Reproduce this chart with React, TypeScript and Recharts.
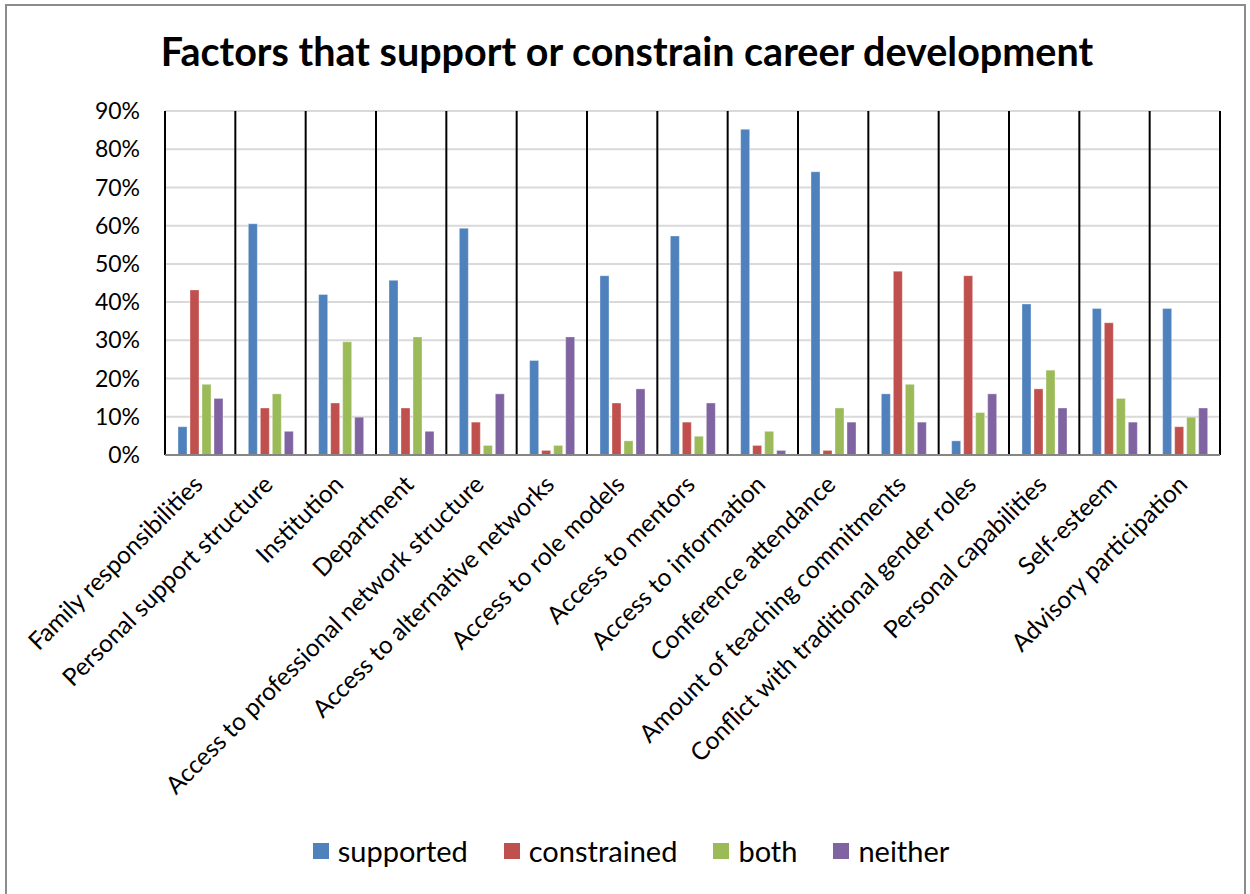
import { BarChart, Bar, XAxis, YAxis, CartesianGrid, Legend } from "recharts";

const categories = [
  "Family responsibilities",
  "Personal support structure",
  "Institution",
  "Department",
  "Access to professional network structure",
  "Access to alternative networks",
  "Access to role models",
  "Access to mentors",
  "Access to information",
  "Conference attendance",
  "Amount of teaching commitments",
  "Conflict with traditional gender roles",
  "Personal capabilities",
  "Self-esteem",
  "Advisory participation",
];

const supported = [7.4, 60.5, 42.0, 45.7, 59.3, 24.7, 46.9, 57.3, 85.2, 74.1, 16.0, 3.7, 39.5, 38.3, 38.3];
const constrained = [43.2, 12.3, 13.6, 12.3, 8.6, 1.2, 13.6, 8.6, 2.5, 1.2, 48.1, 46.9, 17.3, 34.6, 7.4];
const both = [18.5, 16.0, 29.6, 30.9, 2.5, 2.5, 3.7, 4.9, 6.2, 12.3, 18.5, 11.1, 22.2, 14.8, 9.9];
const neither = [14.8, 6.2, 9.9, 6.2, 16.0, 30.9, 17.3, 13.6, 1.2, 8.6, 8.6, 16.0, 12.3, 8.6, 12.3];

const yTicks = [0, 10, 20, 30, 40, 50, 60, 70, 80, 90];

const series = [
  { key: "supported", color: "#4F81BD" },
  { key: "constrained", color: "#C0504D" },
  { key: "both", color: "#9BBB59" },
  { key: "neither", color: "#8064A2" },
];

const data = categories.map((name, i) => ({
  name,
  supported: supported[i],
  constrained: constrained[i],
  both: both[i],
  neither: neither[i],
}));

const FONT = "Lato, 'Open Sans', sans-serif";

function CategoryTick({ x, y, payload }: any) {
  const tx = x + 4;
  const ty = y + 31;
  return (
    <text
      x={tx}
      y={ty}
      transform={`rotate(-45 ${tx} ${ty})`}
      textAnchor="end"
      fontSize={24.5}
      fontFamily={FONT}
      fill="#000"
    >
      {payload.value}
    </text>
  );
}

function LegendBox() {
  return (
    <div
      style={{
        display: "flex",
        justifyContent: "center",
        alignItems: "center",
        fontFamily: FONT,
        fontSize: 29,
        color: "#000",
      }}
    >
      {series.map((s) => (
        <div key={s.key} style={{ display: "flex", alignItems: "center", margin: "0 18px" }}>
          <span style={{ width: 16, height: 16, background: s.color, marginRight: 9, display: "inline-block" }} />
          {s.key}
        </div>
      ))}
    </div>
  );
}

export default function App() {
  return (
    <div style={{ position: "absolute", left: 0, top: 0, width: 1250, height: 894, overflow: "hidden", background: "#fff" }}>
      <div
        style={{
          position: "absolute",
          left: 5,
          top: 4,
          width: 1241,
          height: 900,
          border: "2px solid #8c8c8c",
          boxSizing: "border-box",
        }}
      />
      <div
        style={{
          position: "absolute",
          left: 0,
          top: 27,
          width: 1254,
          textAlign: "center",
          fontFamily: FONT,
          fontWeight: 700,
          fontSize: 39.5,
          color: "#000",
        }}
      >
        Factors that support or constrain career development
      </div>
      <div style={{ position: "absolute", left: 0, top: 0 }}>
        <BarChart
          width={1250}
          height={894}
          data={data}
          margin={{ top: 111, right: 30, left: 0, bottom: 0 }}
          barSize={9}
          barGap={3}
        >
          <CartesianGrid vertical={false} stroke="#d9d9d9" strokeWidth={2} />
          <CartesianGrid
            horizontal={false}
            stroke="#000"
            strokeWidth={2}
            verticalCoordinatesGenerator={({ offset }: any) =>
              Array.from({ length: categories.length + 1 }, (_, i) => offset.left + (i * offset.width) / categories.length)
            }
          />
          <XAxis
            dataKey="name"
            interval={0}
            height={439}
            tickLine={false}
            tickSize={0}
            tickMargin={0}
            axisLine={{ stroke: "#868686", strokeWidth: 2 }}
            tick={<CategoryTick />}
          />
          <YAxis
            width={165}
            domain={[0, 90]}
            ticks={yTicks}
            interval={0}
            axisLine={false}
            tickLine={false}
            tickSize={0}
            tickMargin={25}
            tickFormatter={(v: number) => `${v}%`}
            tick={{ fontSize: 23, fontFamily: FONT, fill: "#000" }}
          />
          {series.map((s) => (
            <Bar
              key={s.key}
              dataKey={s.key}
              fill={s.color}
              stroke="#ffffff"
              strokeOpacity={0.35}
              strokeWidth={1}
              isAnimationActive={false}
            />
          ))}
          <Legend
            layout="horizontal"
            verticalAlign="middle"
            align="center"
            content={<LegendBox />}
            wrapperStyle={{ top: 833, left: 0, width: 1262, height: 40 }}
          />
        </BarChart>
      </div>
    </div>
  );
}
